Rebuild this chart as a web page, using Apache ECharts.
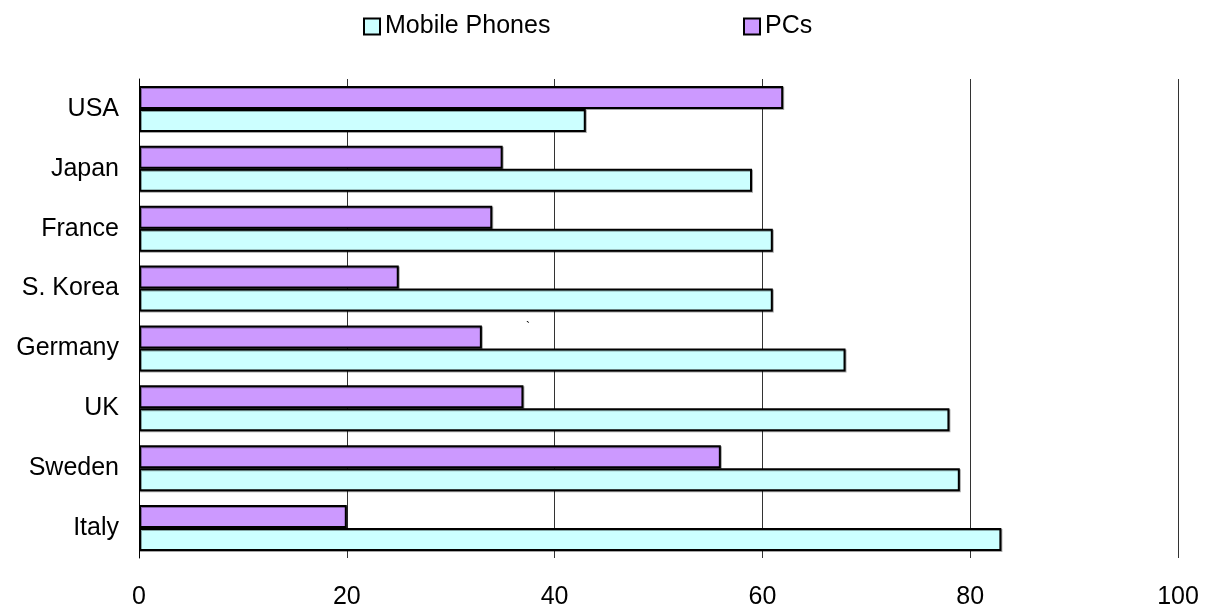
<!DOCTYPE html>
<html>
<head>
<meta charset="utf-8">
<script src="https://cdn.jsdelivr.net/npm/echarts@6/dist/echarts.min.js"></script>
<style>
  html, body { margin: 0; padding: 0; background: #fff; }
  #chart { width: 1206px; height: 610px; }
</style>
</head>
<body>
<div id="chart"></div>
<script>
// Countries listed bottom-to-top (Italy at the bottom, USA at the top)
const countries = ['Italy', 'Sweden', 'UK', 'Germany', 'S. Korea', 'France', 'Japan', 'USA'];
const mobilePhones = [83, 79, 78, 68, 61, 61, 59, 43];
const pcs = [20, 56, 37, 33, 25, 34, 35, 62];
const xTicks = [0, 20, 40, 60, 80, 100];

const font = 'Liberation Sans, Arial, sans-serif';
const fontSize = 25;
const chart = echarts.init(document.getElementById('chart'), null, { renderer: 'canvas' });

const barStyle = (fill) => ({
  color: fill,
  borderColor: '#000',
  borderWidth: 2,
  shadowColor: 'rgba(0,0,0,0.35)',
  shadowOffsetX: 1,
  shadowOffsetY: 1
});

const legendBase = {
  top: 9,
  itemWidth: 16,
  itemHeight: 16,
  icon: 'rect',
  textStyle: { fontFamily: font, fontSize: fontSize, color: '#000' }
};

chart.setOption({
  animation: false,
  backgroundColor: '#fff',
  legend: [
    Object.assign({}, legendBase, { left: 358, data: ['Mobile Phones'] }),
    Object.assign({}, legendBase, { left: 738, data: ['PCs'] })
  ],
  grid: { left: 139, right: 28, top: 79, bottom: 51, containLabel: false },
  xAxis: {
    type: 'value',
    min: xTicks[0],
    max: xTicks[xTicks.length - 1],
    interval: 20,
    axisLine: { show: false },
    axisTick: { show: false },
    axisLabel: { fontFamily: font, fontSize: fontSize, color: '#000', margin: 27 },
    splitLine: { show: true, lineStyle: { color: '#333', width: 1 } }
  },
  yAxis: {
    type: 'category',
    data: countries,
    axisLine: { show: true, lineStyle: { color: '#000', width: 1 } },
    axisTick: { show: false },
    axisLabel: { fontFamily: font, fontSize: fontSize, color: '#000', margin: 20, padding: [0, 0, 0, 0], lineHeight: 25, verticalAlign: 'middle', offset: 0 }
  },
  series: [
    {
      name: 'PCs',
      type: 'bar',
      data: pcs,
      barWidth: 23,
      barGap: '0%',
      itemStyle: barStyle('#CC99FF')
    },
    {
      name: 'Mobile Phones',
      type: 'bar',
      data: mobilePhones,
      barWidth: 23,
      barGap: '0%',
      itemStyle: barStyle('#CCFFFF')
    }
  ],
  graphic: [
    {
      type: 'text',
      left: 526,
      top: 322,
      style: { text: '`', fontFamily: font, fontSize: 12, fill: '#000' }
    }
  ]
});
</script>
</body>
</html>
